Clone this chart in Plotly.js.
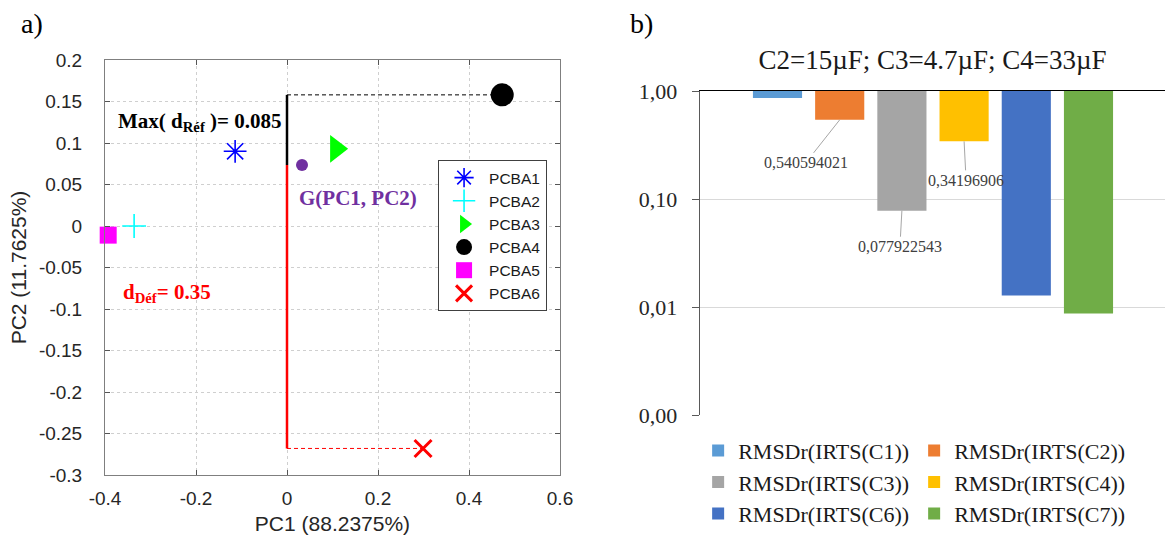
<!DOCTYPE html>
<html><head><meta charset="utf-8">
<script src="https://cdn.plot.ly/plotly-3.0.1.min.js"></script>
<style>
html,body{margin:0;padding:0;background:#fff;overflow:hidden}
#pa{position:absolute;left:0;top:0;width:600px;height:535px}
#pb{position:absolute;left:600px;top:0;width:565px;height:535px}
</style>
</head><body><div id="pa"></div><div id="pb"></div>
<script>
// ---------- Panel a) PCA scores ----------
const pcbaNames = ['PCBA1','PCBA2','PCBA3','PCBA4','PCBA5','PCBA6'];
const pc1 = [-0.114, -0.336, 0.108, 0.473, -0.393, 0.299];
const pc2 = [0.090, 0.000, 0.093, 0.158, -0.011, -0.268];
const centroid = [0.033, 0.0735];
const maxRef = 0.085;
const dDef = 0.35;
const xTickVals = [-0.4, -0.2, 0, 0.2, 0.4, 0.6];
const xTickText = ['-0.4', '-0.2', '0', '0.2', '0.4', '0.6'];
const yTickVals = [-0.3, -0.25, -0.2, -0.15, -0.1, -0.05, 0, 0.05, 0.1, 0.15, 0.2];
const yTickText = ['-0.3', '-0.25', '-0.2', '-0.15', '-0.1', '-0.05', '0', '0.05', '0.1', '0.15', '0.2'];

// ---------- Panel b) RMSDr ----------
const rmsdNames = ['RMSDr(IRTS(C1))','RMSDr(IRTS(C2))','RMSDr(IRTS(C3))','RMSDr(IRTS(C4))','RMSDr(IRTS(C6))','RMSDr(IRTS(C7))'];
const rmsdCats = ['C1','C2','C3','C4','C6','C7'];
const rmsdValues = [0.86, 0.540594021, 0.077922543, 0.34196906, 0.0128, 0.0087];
const rmsdLabelled = [false, true, true, true, false, false];
const bTickVals = [0.001, 0.01, 0.1, 1];
const bTickText = ['0,00', '0,01', '0,10', '1,00'];
const bTitle = 'C2=15µF; C3=4.7µF; C4=33µF';

// ---------- styles ----------
const sym = ['asterisk-open','cross-thin-open','triangle-right','circle','square','x-thin-open'];
const col = ['#0000ff','#00ffff','#00ff00','#000000','#ff00ff','#ff0000'];
const msize = [19, 17, 24, 23, 17, 17];
const mlw = [1.6, 1.6, 0, 0, 0, 3];
const barCol = ['#5b9bd5','#ed7d31','#a5a5a5','#ffc000','#4472c4','#70ad47'];
const serif = 'Liberation Serif, Times New Roman, serif';
const sans = 'Liberation Sans, Arial, sans-serif';

const dashed = '4px,3px';
const tracesA = [
  {x:[0, pc1[3]], y:[pc2[3], pc2[3]], mode:'lines', line:{color:'#000', width:1, dash:dashed}, showlegend:false, hoverinfo:'skip'},
  {x:[0, 0], y:[centroid[1], pc2[3]], mode:'lines', line:{color:'#000', width:2.5}, showlegend:false, hoverinfo:'skip'},
  {x:[0, 0], y:[centroid[1], pc2[5]], mode:'lines', line:{color:'#ff0000', width:2.5}, showlegend:false, hoverinfo:'skip'},
  {x:[0, pc1[5]], y:[pc2[5], pc2[5]], mode:'lines', line:{color:'#ff0000', width:1, dash:dashed}, showlegend:false, hoverinfo:'skip'},
  {x:[centroid[0]], y:[centroid[1]], mode:'markers', marker:{color:'#7030a0', size:12}, showlegend:false, cliponaxis:false}
];
pcbaNames.forEach((n, i) => {
  tracesA.push({x:[pc1[i]], y:[pc2[i]], name:n, mode:'markers', type:'scatter', cliponaxis:false,
    marker:{symbol:sym[i], size:msize[i], color:col[i], line:{color:col[i], width:mlw[i]}}});
});

const axA = {
  showline:true, mirror:'ticks', linecolor:'#7f7f7f', linewidth:1,
  ticks:'inside', ticklen:5, tickcolor:'#555', gridcolor:'#cfcfcf', griddash:'dot', gridwidth:1,
  zeroline:false, tickfont:{family:sans, size:19, color:'#262626'}, fixedrange:true
};
const layoutA = {
  width:600, height:535, margin:{l:105, r:40, t:60, b:60},
  paper_bgcolor:'#fff', plot_bgcolor:'#fff',
  xaxis:Object.assign({}, axA, {range:[-0.4, 0.6], tickvals:xTickVals, ticktext:xTickText, ticklabelstandoff:6,
    title:{text:'PC1 (88.2375%)', font:{family:sans, size:21, color:'#262626'}, standoff:8}}),
  yaxis:Object.assign({}, axA, {range:[-0.3, 0.2], tickvals:yTickVals, ticktext:yTickText, ticklabelstandoff:18,
    title:{text:'PC2 (11.7625%)', font:{family:sans, size:21, color:'#262626'}, standoff:6}}),
  legend:{x:0.732, y:0.759, xanchor:'left', yanchor:'top', bgcolor:'#fff', bordercolor:'#404040', borderwidth:1,
    font:{family:sans, size:15.5, color:'#1a1a1a'}, itemwidth:40},
  annotations:[
    {xref:'x', yref:'y', x:0, y:0.125, xanchor:'right', xshift:-3, showarrow:false,
     text:'<b>Max( d<sub>Réf</sub> )= ' + maxRef + '</b>', font:{family:serif, size:21, color:'#000'}},
    {xref:'x', yref:'y', x:0.022, y:0.034, xanchor:'left', showarrow:false,
     text:'<b>G(PC1, PC2)</b>', font:{family:serif, size:21, color:'#7030a0'}},
    {xref:'x', yref:'y', x:-0.365, y:-0.081, xanchor:'left', showarrow:false,
     text:'<b>d<sub>Déf</sub>= ' + dDef + '</b>', font:{family:serif, size:21, color:'#ff0000'}},
    {xref:'paper', yref:'paper', x:-0.189, y:1.087, xanchor:'left', yanchor:'middle', showarrow:false,
     text:'a)', font:{family:serif, size:28, color:'#000'}}
  ]
};
Plotly.newPlot('pa', tracesA, layoutA, {staticPlot:true});

// ---------- Panel b ----------
const tracesB = rmsdCats.map((c, i) => ({
  type:'bar', name:rmsdNames[i], x:[c], y:[rmsdValues[i] - 1], base:[1], width:[0.79],
  marker:{color:barCol[i], line:{width:0}}, hoverinfo:'skip'
}));
const offs = {C2:[-34, 43], C3:[-2, 36], C4:[2, 39]};
const annB = [];
rmsdCats.forEach((c, i) => {
  if (!rmsdLabelled[i]) return;
  annB.push({xref:'x', yref:'y', x:c, y:Math.log10(rmsdValues[i]),
    text:String(rmsdValues[i]).replace('.', ','), showarrow:true, arrowhead:0, arrowwidth:1,
    arrowcolor:'#a6a6a6', ax:offs[c][0], ay:offs[c][1], standoff:0,
    font:{family:serif, size:16, color:'#404040'}});
});
annB.push({xref:'paper', yref:'paper', x:-0.155, y:1.208, xanchor:'left', yanchor:'middle', showarrow:false,
  text:'b)', font:{family:serif, size:28, color:'#000'}});

const layoutB = {
  width:565, height:535, margin:{l:100, r:0, t:91, b:112},
  paper_bgcolor:'#fff', plot_bgcolor:'#fff', barmode:'overlay',
  title:{text:bTitle, font:{family:serif, size:27, color:'#1a1a1a'}, x:0.5, xref:'paper', y:1 - 60/535, yref:'container', yanchor:'middle'},
  xaxis:{type:'category', range:[-1.246, 6.23], showline:true, linecolor:'#000', linewidth:1.3, side:'top',
    showticklabels:false, ticks:'', showgrid:false, zeroline:false, fixedrange:true},
  yaxis:{type:'log', range:[-3, 0], tickvals:bTickVals, ticktext:bTickText, showline:true, linecolor:'#595959', linewidth:1.3,
    ticks:'outside', ticklen:7, tickcolor:'#595959', gridcolor:'#d9d9d9', gridwidth:1, zeroline:false,
    ticklabelstandoff:10, tickfont:{family:serif, size:22, color:'#262626'}, fixedrange:true},
  legend:{orientation:'h', entrywidth:171, entrywidthmode:'pixels', x:-0.004, xanchor:'left', y:-0.045, yanchor:'top',
    font:{family:serif, size:22, color:'#1a1a1a'}, traceorder:'normal'},
  annotations:annB
};
Plotly.newPlot('pb', tracesB, layoutB, {staticPlot:true});
</script>
</body></html>
